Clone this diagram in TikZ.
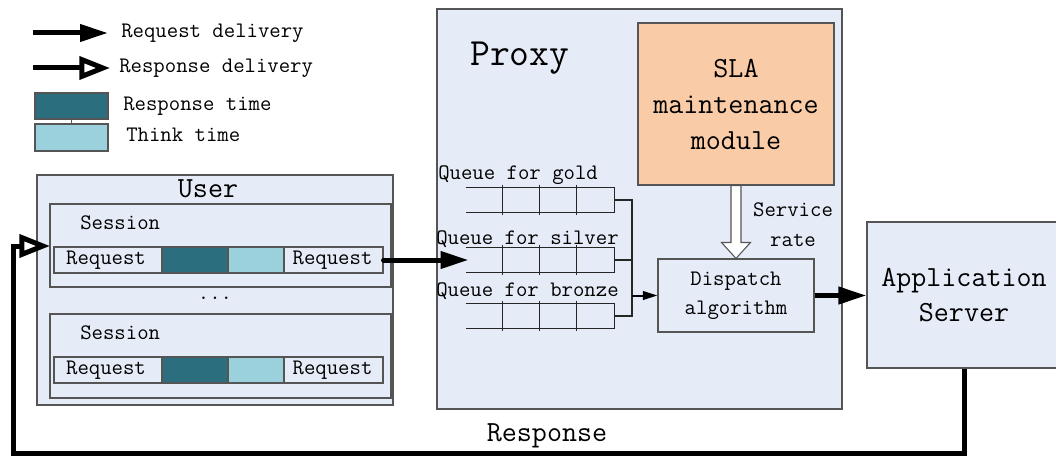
\documentclass[tikz,border=0pt]{standalone}
\usepackage{fontspec}
\usetikzlibrary{arrows.meta,fit,calc}

\definecolor{panel}{HTML}{E6ECF7}
\definecolor{edge}{HTML}{555555}
\definecolor{resptime}{HTML}{2B6E7E}
\definecolor{thinktime}{HTML}{9BD0DD}
\definecolor{slafill}{HTML}{F9CBA7}

\tikzset{
  txs/.style={font=\ttfamily\fontsize{16.6}{22}\selectfont, inner sep=0pt},
  txm/.style={font=\ttfamily\fontsize{21.9}{27}\selectfont, inner sep=0pt},
  txl/.style={font=\ttfamily\fontsize{28.9}{34}\selectfont, inner sep=0pt},
  panelbox/.style={draw=edge, line width=0.8pt, fill=panel, inner sep=0pt},
  cell/.style={draw=edge, line width=0.8pt, fill=panel, inner sep=0pt},
  rtcell/.style={draw=edge, line width=0.8pt, fill=resptime, inner sep=0pt},
  ttcell/.style={draw=edge, line width=0.8pt, fill=thinktime, inner sep=0pt},
  qline/.style={line width=0.9pt, black!85},
  reqarrow/.style={line width=3.75pt, -{Triangle[length=21pt, width=12.5pt]}},
  resparrow/.style={line width=3.75pt, line join=miter,
    -{Triangle[open, length=23pt, width=17pt]}},
  feedarrow/.style={line width=1.5pt, -{Triangle[length=11pt, width=6.5pt]}},
  hollow/.style={draw=edge, line width=0.8pt, fill=white, line join=miter},
}

\begin{document}
\begin{tikzpicture}[x=0.75pt, y=-0.75pt]
\useasboundingbox (0,0) rectangle (1056,456);

% ---- legend ----
\coordinate (la1s) at (33,33);
\coordinate (la1e) at (108,33);
\coordinate (la2s) at (33,68);
\coordinate (la2e) at (110,68);
\draw[reqarrow] (la1s) -- (la1e);
\draw[resparrow] (la2s) -- (la2e);
\node[txs, anchor=west] (lt1) at (121,33) {Request delivery};
\node[txs, anchor=west] (lt2) at (119,68) {Response delivery};
\node[rtcell, fit={(35,93) (108,119)}] (lrt) {};
\node[ttcell, fit={(35,124) (108,151)}] (ltt) {};
\draw[edge, line width=0.8pt] (lrt.south) -- (ltt.north);
\node[txs, anchor=west] (lt3) at (123,106) {Response time};
\node[txs, anchor=west] (lt4) at (126,135) {Think time};

% ---- user side ----
\node[panelbox, fit={(37,175) (393,405)}] (user) {};
\node[txm] (usertitle) at (208,189) {User};

\node[panelbox, fit={(50,204) (391,287)}] (s1) {};
\node[txs, anchor=west] (s1t) at (80,223) {Session};
\node[cell, fit={(54,247) (162,273)}] (r1a) {};
\node[rtcell, fit={(162,247) (228,273)}] (r1b) {};
\node[ttcell, fit={(228,247) (284,273)}] (r1c) {};
\node[cell, fit={(284,247) (383,273)}] (r1d) {};
\node[txs] (r1at) at ($(r1a.center)+(-2,0)$) {Request};
\node[txs] (r1dt) at ($(r1d.center)+(-1,0)$) {Request};

\node[txs] (dots) at (215,298) {...};

\node[panelbox, fit={(50,314) (391,398)}] (s2) {};
\node[txs, anchor=west] (s2t) at (80,333) {Session};
\node[cell, fit={(54,357) (162,383)}] (r2a) {};
\node[rtcell, fit={(162,357) (228,383)}] (r2b) {};
\node[ttcell, fit={(228,357) (284,383)}] (r2c) {};
\node[cell, fit={(284,357) (383,383)}] (r2d) {};
\node[txs] (r2at) at ($(r2a.center)+(-2,0)$) {Request};
\node[txs] (r2dt) at ($(r2d.center)+(-1,0)$) {Request};

% ---- proxy ----
\node[panelbox, fit={(437,9) (842,409)}] (proxy) {};
\node[txl, anchor=west] (proxytitle) at (470,58) {Proxy};
\node[draw=edge, line width=0.8pt, fill=slafill, inner sep=0pt,
      fit={(638,23) (834,185)}] (sla) {};
\node[txm, align=center] (slat) at (sla.center) {SLA\\maintenance\\module};

\node[panelbox, fit={(658,259) (814,332)}] (disp) {};
\node[txs, align=center, font=\ttfamily\fontsize{16.6}{21.75}\selectfont]
  (dispt) at (disp.center) {Dispatch\\algorithm};

% queues
\foreach \q/\y in {qg/188, qs/248, qb/304} {
  \node[inner sep=0pt, fit={(466,\y) (614,\y+24)}] (\q) {};
  \draw[qline] (\q.north west) -- (\q.north east) -- (\q.south east) -- (\q.south west);
  \foreach \dx in {37,74,111}
    \draw[qline] ($(\q.north west)+(\dx,-3)$) -- ($(\q.south west)+(\dx,3)$);
}
\node[txs, anchor=west] (qgt) at (438,175) {Queue for gold};
\node[txs, anchor=west] (qst) at (436,239) {Queue for silver};
\node[txs, anchor=west] (qbt) at (436,291) {Queue for bronze};

\coordinate (cg) at (632,200);
\coordinate (cb) at (632,316);
\draw[qline] (qg.east) -- (cg) -- (cb) -- (qb.east);
\draw[qline] (qs.east) -- (qs.east -| cg);
\draw[feedarrow] (disp.west -| cg) -- (disp.west);

% service rate from the SLA module
\draw[hollow] ($(sla.south)+(-5,0)$) -- ($(disp.north)+(-5,-16)$)
  -- ($(disp.north)+(-14.5,-16)$) -- (disp.north)
  -- ($(disp.north)+(14.5,-16)$) -- ($(disp.north)+(5,-16)$)
  -- ($(sla.south)+(5,0)$) -- cycle;
\node[txs, align=center, font=\ttfamily\fontsize{16.6}{22.5}\selectfont]
  (srate) at (793,225) {Service\\rate};

% ---- application server ----
\node[panelbox, fit={(867,222) (1061,368)}] (app) {};
\node[txm, align=center, font=\ttfamily\fontsize{21.9}{26}\selectfont]
  (appt) at (app.center) {Application\\Server};

% ---- connectors ----
\coordinate (qin) at ($(r1d.east)+(85,0)$);
\draw[reqarrow, line cap=round] (r1d.east) -- (qin);
\draw[reqarrow] (disp.east) -- (disp.east -| app.west);

\coordinate (rb) at (13,453);
\coordinate (rin) at (50,246);
\draw[resparrow] (app.south) |- (rb) |- (rin);
\node[txm] (resp) at (547,436) {Response};

\end{tikzpicture}
\end{document}
